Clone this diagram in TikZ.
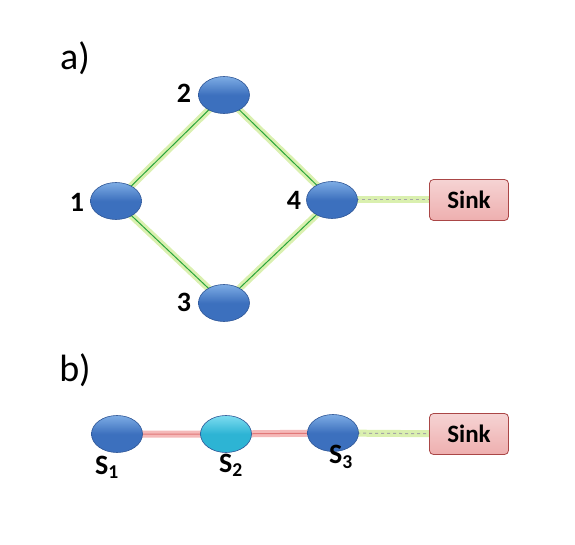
\documentclass[tikz,border=0pt]{standalone}
\usepackage{fontspec}
\setmainfont{Carlito}
\usetikzlibrary{shapes.geometric,backgrounds}
\definecolor{nodeblue}{RGB}{60,112,190}
\definecolor{nodetop}{RGB}{125,172,228}
\definecolor{nodeedge}{RGB}{45,85,150}
\definecolor{nodecyan}{RGB}{45,180,212}
\definecolor{cyantop}{RGB}{125,220,240}
\definecolor{sinkfill}{RGB}{238,175,175}
\definecolor{sinkedge}{RGB}{170,70,70}
\definecolor{glowgreen}{RGB}{218,240,175}
\definecolor{linegreen}{RGB}{40,165,60}
\definecolor{glowpink}{RGB}{245,185,185}
\definecolor{linered}{RGB}{225,120,120}

\begin{document}
\begin{tikzpicture}[x=1pt, y=-1pt,
    sensor/.style={ellipse, draw=nodeedge, line width=0.6pt, top color=nodetop, bottom color=nodeblue, middle color=nodeblue, minimum width=51pt, minimum height=37pt, inner sep=0pt},
    relay/.style={sensor, top color=cyantop, bottom color=nodecyan, middle color=nodecyan},
    sink/.style={rectangle, rounded corners=4pt, draw=sinkedge, line width=0.8pt, top color=sinkfill!55!white, bottom color=sinkfill, minimum width=79pt, minimum height=41pt, font=\fontsize{25}{28}\selectfont\bfseries},
    lbl/.style={font=\fontsize{28}{30}\selectfont\bfseries},
    part/.style={font=\fontsize{38}{40}\selectfont},
    link/.style={draw=linegreen, line width=1pt, preaction={draw=glowgreen, line width=7pt}},
    tosink/.style={draw=gray!70, dashed, line width=1pt, preaction={draw=glowgreen, line width=7pt}},
    chain/.style={draw=linered, line width=1pt, preaction={draw=glowpink, line width=7pt}}]
    \useasboundingbox (0,0) rectangle (575,545);
    % part a
    \node[part] (pa) at (75,58) {a)};
    \node[sensor] (1) at (116,201) {};
    \node[sensor] (2) at (224,95) {};
    \node[sensor] (3) at (224,303) {};
    \node[sensor] (4) at (332,200) {};
    \node[sink] (sinka) at (469,200) {Sink};
    \node[lbl] (l1) at (77,202) {1};
    \node[lbl] (l2) at (184,93) {2};
    \node[lbl] (l3) at (184,302) {3};
    \node[lbl] (l4) at (294,200) {4};
    % part b
    \node[part] (pb) at (75,370) {b)};
    \node[sensor] (s1) at (117,434) {};
    \node[relay] (s2) at (226,434) {};
    \node[sensor] (s3) at (333,433) {};
    \node[sink] (sinkb) at (469,434) {Sink};
    \node[lbl] (ls1) at (107,467) {S\textsubscript{1}};
    \node[lbl] (ls2) at (231,465) {S\textsubscript{2}};
    \node[lbl] (ls3) at (341,457) {S\textsubscript{3}};
    \begin{scope}[on background layer]
        \draw[link] (1.center) -- (2.center);
        \draw[link] (2.center) -- (4.center);
        \draw[link] (1.center) -- (3.center);
        \draw[link] (3.center) -- (4.center);
        \draw[tosink] (4.center) -- (sinka);
        \draw[chain] (s1.center) -- (s2.center) -- (s3.center);
        \draw[tosink] (s3.center) -- (sinkb);
    \end{scope}
\end{tikzpicture}
\end{document}
